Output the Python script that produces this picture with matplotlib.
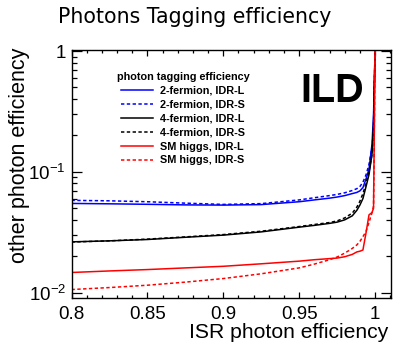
import matplotlib
matplotlib.use("Agg")
import matplotlib.pyplot as plt
from matplotlib.ticker import FixedLocator, FixedFormatter, NullFormatter, MultipleLocator, LogLocator

plt.rcParams['font.family'] = ['Liberation Sans', 'DejaVu Sans']
plt.rcParams['mathtext.fontset'] = 'custom'
plt.rcParams['mathtext.rm'] = 'Liberation Sans'
plt.rcParams['mathtext.it'] = 'Liberation Sans:italic'
plt.rcParams['mathtext.bf'] = 'Liberation Sans:bold'

# ISR photon efficiency (x) grid shared by all curves
isr_eff = [0.8, 0.825, 0.85, 0.875, 0.9, 0.925, 0.95, 0.96, 0.97, 0.975,
           0.98, 0.985, 0.988, 0.99, 0.992, 0.994, 0.996, 0.998, 0.999, 1.0]

# other photon efficiency for each sample / detector option
ff2_L = [0.0547, 0.0543, 0.0538, 0.0532, 0.0530, 0.0535, 0.0565, 0.0585, 0.0605, 0.0618,
         0.0635, 0.0660, 0.0675, 0.0695, 0.074, 0.087, 0.105, 0.17, 0.30, 1.0]
ff2_S = [0.058, 0.0575, 0.0565, 0.055, 0.0537, 0.0545, 0.0585, 0.061, 0.0635, 0.065,
         0.067, 0.070, 0.0725, 0.0755, 0.082, 0.094, 0.115, 0.16, 0.22, 1.0]
ff4_L = [0.0263, 0.0268, 0.0275, 0.0287, 0.0299, 0.0318, 0.0348, 0.0360, 0.0374, 0.0383,
         0.0400, 0.0432, 0.048, 0.053, 0.060, 0.075, 0.095, 0.14, 0.25, 1.0]
ff4_S = [0.0262, 0.0268, 0.0277, 0.0289, 0.0302, 0.0322, 0.0352, 0.0366, 0.0380, 0.0392,
         0.0415, 0.0455, 0.051, 0.057, 0.066, 0.080, 0.100, 0.14, 0.22, 1.0]
higgs_L = [0.01466, 0.0151, 0.0155, 0.0160, 0.0165, 0.0173, 0.0182, 0.0187, 0.0191, 0.0193,
           0.0198, 0.0207, 0.0217, 0.0220, 0.0225, 0.031, 0.044, 0.046, 0.050, 1.0]
higgs_S = [0.01059, 0.0110, 0.0115, 0.0122, 0.01306, 0.0143, 0.0160, 0.0172, 0.0187, 0.0197,
           0.0212, 0.0232, 0.0248, 0.0265, 0.029, 0.032, 0.038, 0.046, 0.052, 1.0]

labels = ["2-fermion, IDR-L", "2-fermion, IDR-S",
          "4-fermion, IDR-L", "4-fermion, IDR-S",
          "SM higgs, IDR-L", "SM higgs, IDR-S"]
series = [ff2_L, ff2_S, ff4_L, ff4_S, higgs_L, higgs_S]
colors = ["#0000ff", "#0000ff", "#000000", "#000000", "#ff0000", "#ff0000"]
dashed = (0, (2.2, 1.6))
styles = ["-", dashed, "-", dashed, "-", dashed]

xticks = [0.8, 0.85, 0.9, 0.95, 1.0]
xticklabels = ["0.8", "0.85", "0.9", "0.95", "1"]
yticks = [0.01, 0.1, 1.0]
yticklabels = [r"$\mathdefault{10^{-2}}$", r"$\mathdefault{10^{-1}}$", "1"]

W, H = 393, 345
fig = plt.figure(figsize=(W / 100, H / 100), dpi=100)
L, R, T, B = 71.5, 390.7, 50, 297.5
ax = fig.add_axes([L / W, 1 - B / H, (R - L) / W, (B - T) / H])

for y, lab, c, ls in zip(series, labels, colors, styles):
    ax.plot(isr_eff, y, color=c, ls=ls, lw=1.1, label=lab)

ax.set_yscale('log')
ax.set_xlim(0.8, 1.0103)
ax.set_ylim(0.0091, 1.02)

ax.xaxis.set_major_locator(FixedLocator(xticks))
ax.xaxis.set_major_formatter(FixedFormatter(xticklabels))
ax.xaxis.set_minor_locator(MultipleLocator(0.01))
ax.yaxis.set_major_locator(FixedLocator(yticks))
ax.yaxis.set_major_formatter(FixedFormatter(yticklabels))
ax.yaxis.set_minor_locator(LogLocator(base=10, subs=range(2, 10)))
ax.yaxis.set_minor_formatter(NullFormatter())

ax.tick_params(axis='both', which='both', direction='in', top=True, right=True,
               width=0.9, labelsize=13.5)
ax.tick_params(axis='x', which='major', length=4.5, pad=6)
ax.tick_params(axis='x', which='minor', length=2.3)
ax.tick_params(axis='y', which='major', length=7.2, pad=4)
ax.tick_params(axis='y', which='minor', length=3.6)
for s in ax.spines.values():
    s.set_linewidth(1.0)

ax.set_xlabel("ISR photon efficiency", fontsize=15.2, ha='right', va='center')
ax.xaxis.set_label_coords((388 - L) / (R - L), (B - 333) / (B - T))
ax.set_ylabel("other photon efficiency", fontsize=15.5, ha='center', va='center')
ax.yaxis.set_label_coords((20 - L) / (R - L), (B - 155) / (B - T))

leg = ax.legend(loc='upper left', bbox_to_anchor=((117 - L) / (R - L), (B - 72) / (B - T)),
                frameon=False, title="photon tagging efficiency",
                prop={'weight': 'bold', 'size': 7.8}, handlelength=2.9,
                handletextpad=0.68, labelspacing=0.36, borderpad=0, borderaxespad=0)
leg.get_title().set_fontweight('bold')
leg.get_title().set_fontsize(7.8)

ax.text((300 - L) / (R - L), (B - 102) / (B - T), "ILD", transform=ax.transAxes,
        fontsize=28.5, fontweight='bold', ha='left', va='baseline')

fig.text(58 / W, 1 - 17 / H, "Photons Tagging efficiency", fontsize=14.8,
         family='DejaVu Sans', ha='left', va='center')

fig.savefig("out.png", dpi=100)
